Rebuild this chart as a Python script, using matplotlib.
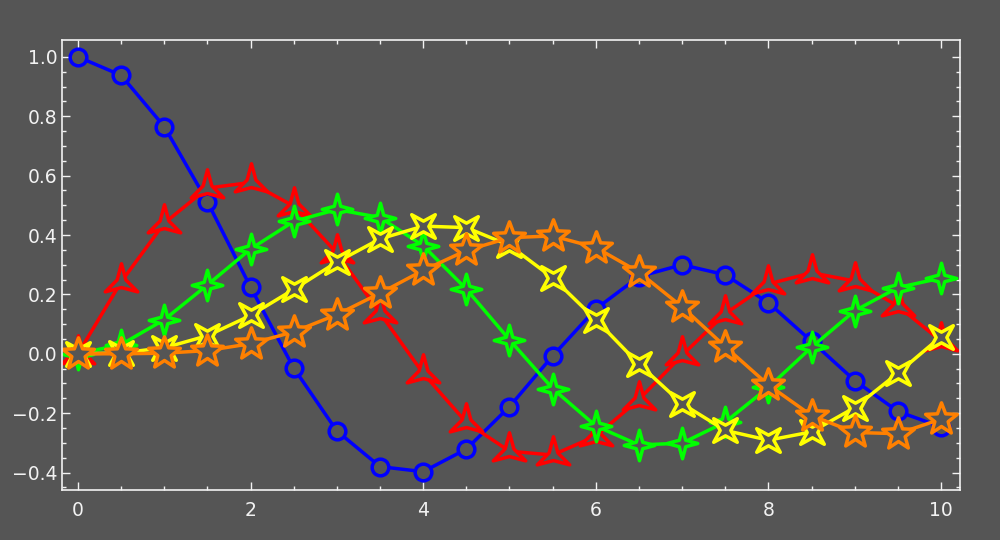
import numpy as np
import matplotlib
matplotlib.use('Agg')
import matplotlib.pyplot as plt
from matplotlib.path import Path

# значения
x = [0, 0.5, 1, 1.5, 2, 2.5, 3, 3.5, 4, 4.5, 5, 5.5, 6, 6.5, 7, 7.5, 8, 8.5, 9, 9.5, 10]
y_blue = [1.0, 0.938, 0.765, 0.512, 0.224, -0.048, -0.260, -0.380, -0.397, -0.321, -0.178,
          -0.007, 0.151, 0.260, 0.300, 0.266, 0.172, 0.042, -0.090, -0.194, -0.246]
y_red = [0, 0.242, 0.440, 0.558, 0.577, 0.497, 0.339, 0.137, -0.066, -0.231, -0.328,
         -0.341, -0.277, -0.154, -0.005, 0.135, 0.235, 0.273, 0.245, 0.161, 0.043]
y_green = [0, 0.031, 0.115, 0.232, 0.353, 0.446, 0.486, 0.459, 0.364, 0.218, 0.047,
           -0.117, -0.243, -0.307, -0.301, -0.230, -0.113, 0.022, 0.145, 0.223, 0.255]
y_yellow = [0, 0.003, 0.020, 0.061, 0.129, 0.217, 0.309, 0.387, 0.430, 0.425, 0.365,
            0.256, 0.115, -0.035, -0.168, -0.258, -0.291, -0.263, -0.181, -0.065, 0.058]
y_orange = [0, 0.000, 0.002, 0.011, 0.034, 0.074, 0.132, 0.204, 0.281, 0.348, 0.391,
            0.397, 0.358, 0.275, 0.158, 0.024, -0.105, -0.208, -0.265, -0.269, -0.220]

bg = '#555555'
fg = '#f2f2f2'


def star(n, inner, rot=0.0):
    # звезда с n лучами
    ang = np.pi / 2 + rot + np.arange(2 * n) * np.pi / n
    r = np.where(np.arange(2 * n) % 2 == 0, 1.0, inner)
    verts = np.column_stack([r * np.cos(ang), r * np.sin(ang)])
    verts = np.vstack([verts, verts[:1]])
    codes = [Path.MOVETO] + [Path.LINETO] * (2 * n - 1) + [Path.CLOSEPOLY]
    return Path(verts, codes)


series = [
    (y_blue, '#0000ff', 'o', 12),
    (y_red, '#ff0000', star(3, 0.27), 27),
    (y_green, '#00ff00', star(4, 0.3), 22),
    (y_yellow, '#ffff00', star(4, 0.32, np.pi / 4), 17),
    (y_orange, '#ff8000', star(5, 0.42), 24),
]

fig = plt.figure(figsize=(10, 5.4), dpi=100, facecolor=bg)
ax = fig.add_axes([0.062, 0.093, 0.898, 0.833], facecolor=bg)

for y, c, m, ms in series:
    ax.plot(x, y, color=c, lw=2.5, marker=m, ms=ms, mfc=bg, mec=c, mew=2.5)

ax.set_xlim(-0.185, 10.22)
ax.set_ylim(-0.458, 1.057)
ax.set_xticks([0, 2, 4, 6, 8, 10])
ax.set_yticks([-0.4, -0.2, 0.0, 0.2, 0.4, 0.6, 0.8, 1.0])
ax.set_yticklabels(['\u22120.4', '\u22120.2', '0.0', '0.2', '0.4', '0.6', '0.8', '1.0'])
ax.set_xticks(np.arange(0, 10.5, 0.5), minor=True)
ax.set_yticks(np.arange(-0.45, 1.05, 0.05), minor=True)

for s in ax.spines.values():
    s.set_color(fg)
    s.set_linewidth(1.2)
ax.tick_params(which='both', direction='in', top=True, right=True, colors=fg,
               labelsize=13.5, labelcolor=fg)
ax.tick_params(which='major', length=6, width=1)
ax.tick_params(which='minor', length=3, width=1)
ax.tick_params(axis='x', pad=8)

fig.savefig('out.png', dpi=100, facecolor=bg)
